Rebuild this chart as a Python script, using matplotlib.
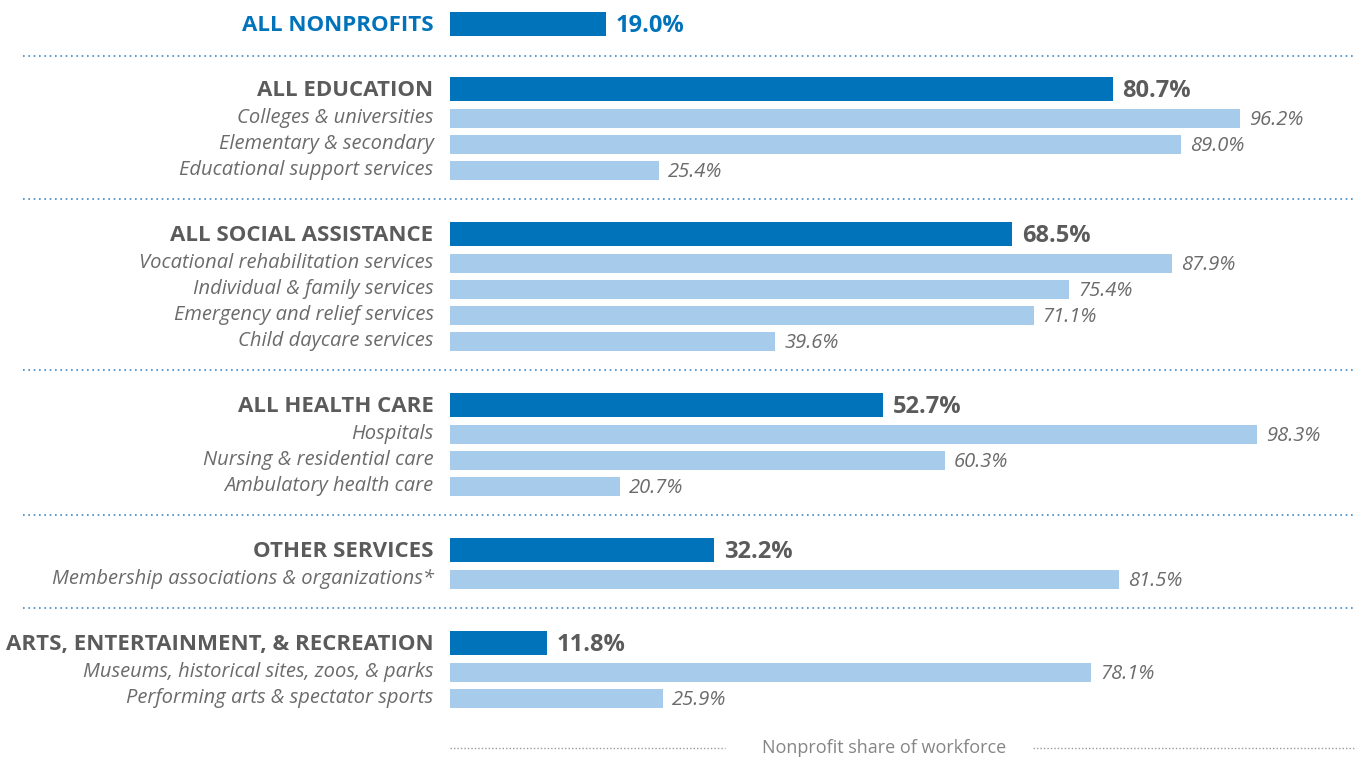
import matplotlib.pyplot as plt

# groups: header label, header value, sub-categories, sub values
groups = ['ALL NONPROFITS', 'ALL EDUCATION', 'ALL SOCIAL ASSISTANCE',
          'ALL HEALTH CARE', 'OTHER SERVICES', 'ARTS, ENTERTAINMENT, & RECREATION']
group_values = [19.0, 80.7, 68.5, 52.7, 32.2, 11.8]
sub_labels = [
    [],
    ['Colleges & universities', 'Elementary & secondary', 'Educational support services'],
    ['Vocational rehabilitation services', 'Individual & family services',
     'Emergency and relief services', 'Child daycare services'],
    ['Hospitals', 'Nursing & residential care', 'Ambulatory health care'],
    ['Membership associations & organizations*'],
    ['Museums, historical sites, zoos, & parks', 'Performing arts & spectator sports'],
]
sub_values = [
    [],
    [96.2, 89.0, 25.4],
    [87.9, 75.4, 71.1, 39.6],
    [98.3, 60.3, 20.7],
    [81.5],
    [78.1, 25.9],
]

DARK = '#0073bb'
LIGHT = '#a6cbeb'
GREY = '#5b5b5b'
SUBGREY = '#6b6b6b'
plt.rcParams['font.family'] = ['Open Sans', 'DejaVu Sans']

fig = plt.figure(figsize=(13.58, 7.6), dpi=100)
ax = fig.add_axes([0, 0, 1, 1])
px = 8.21  # pixels per percent
x0 = 450
ax.set_xlim(-x0 / px, (1358 - x0) / px)
ax.set_ylim(760, 0)
ax.axis('off')

sep_left = (23 - x0) / px
sep_right = (1356 - x0) / px

y = 24
for i, g in enumerate(groups):
    v = group_values[i]
    ax.barh(y, v, height=24, color=DARK)
    lab_col = DARK if i == 0 else GREY
    ax.text(-2, y + 1.5, g, ha='right', va='center', fontsize=16, fontweight='bold',
            color=lab_col)
    ax.text(v + 1.2, y + 2, f'{v:.1f}%', ha='left', va='center', fontsize=17,
            fontweight='bold', color=lab_col)
    last = y
    for j, (s, sv) in enumerate(zip(sub_labels[i], sub_values[i])):
        yy = y + 29 + 26 * j
        ax.barh(yy, sv, height=19, color=LIGHT)
        ax.text(-2, yy, s, ha='right', va='center', fontsize=14.5, style='italic', color=SUBGREY)
        ax.text(sv + 1.1, yy + 2, f'{sv:.1f}%', ha='left', va='center', fontsize=14.5,
                style='italic', color=SUBGREY)
        last = yy
    if i < len(groups) - 1:
        sep = last + 29 + (3 if i == 0 else 0)
        ax.plot([sep_left, sep_right], [sep, sep], color='#3d8ac6', lw=1.2,
                linestyle=(0, (1, 2.2)))
        y = sep + 35 - (2 if i == 0 else 0)

# axis title at the bottom
ax.plot([0, (725 - x0) / px], [748, 748], color='#9a9a9a', lw=1, linestyle=(0, (1, 1.5)))
ax.plot([(1033 - x0) / px, sep_right], [748, 748], color='#9a9a9a', lw=1,
        linestyle=(0, (1, 1.5)))
ax.text((884 - x0) / px, 748, 'Nonprofit share of workforce', ha='center', va='center',
        fontsize=13, color='#858585')

fig.savefig('out.png', dpi=100)
